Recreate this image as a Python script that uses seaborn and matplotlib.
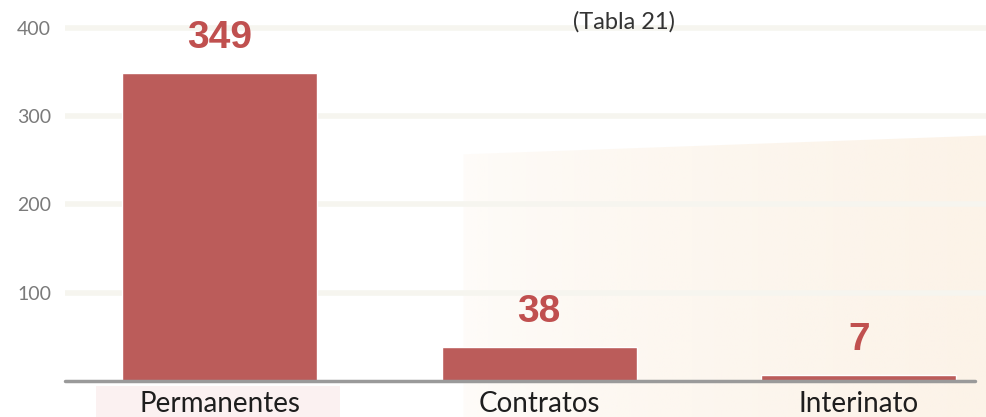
import matplotlib
matplotlib.use("Agg")
import matplotlib.pyplot as plt
from matplotlib.patches import Polygon
import seaborn as sns
import pandas as pd
import numpy as np

categories = ["Permanentes", "Contratos", "Interinato"]
values = [349, 38, 7]
y_ticks = [100, 200, 300, 400]
note = "(Tabla 21)"

bar_color = "#bb5c5a"
label_color = "#c0504f"

sns.set_theme(style="white")
plt.rcParams["font.family"] = ["Lato", "DejaVu Sans"]

fig = plt.figure(figsize=(9.86, 4.17), dpi=100)
fig.patch.set_facecolor("white")

# background layer: soft pastel panel fading in toward the right, and a tint behind the first label
bg = fig.add_axes([0, 0, 1, 1], zorder=0)
bg.set_xlim(0, 1)
bg.set_ylim(0, 1)
bg.axis("off")
panel = Polygon([(0.47, 0.63), (1.0, 0.675), (1.0, 0.0), (0.47, 0.0)],
                closed=True, facecolor="none", edgecolor="none")
bg.add_patch(panel)
ramp = np.linspace(0.0, 1.0, 256)
grad = np.zeros((1, 256, 4))
grad[..., 0] = 252 / 255
grad[..., 1] = 243 / 255
grad[..., 2] = 232 / 255
grad[..., 3] = 0.25 + 0.75 * ramp ** 0.7
img = bg.imshow(grad, extent=(0.47, 1.0, 0.0, 0.675), aspect="auto",
                interpolation="bilinear", zorder=0)
img.set_clip_path(panel)
bg.add_patch(Polygon([(0.097, 0.0), (0.345, 0.0), (0.345, 0.075), (0.097, 0.075)],
                     closed=True, facecolor="#fbf1f1", edgecolor="none"))

ax = fig.add_axes([65 / 986, 36 / 417, 921 / 986, 381 / 417], zorder=1)
ax.set_facecolor("none")

df = pd.DataFrame({"cat": categories, "val": values})
sns.barplot(data=df, x="cat", y="val", color=bar_color, width=0.61,
            saturation=1, ax=ax, zorder=3)

ax.set_xlim(-0.484, 2.398)
ax.set_ylim(0, 431.5)

for t in y_ticks:
    ax.axhline(t, color="#f6f5ef", lw=4, zorder=1)
ax.axhline(0, xmin=0, xmax=0.988, color="#9a9a9a", lw=2.5, zorder=4, clip_on=False)

for i, v in enumerate(values):
    ax.text(i, v + 40, str(v), ha="center", va="center", fontsize=28,
            fontweight="bold", color=label_color, zorder=5,
            family=["Liberation Sans", "DejaVu Sans"])

ax.set_yticks(y_ticks)
ax.set_yticklabels([str(t) for t in y_ticks], color="#7a7a7a", fontsize=14)
ax.tick_params(axis="y", length=0, pad=10)
ax.tick_params(axis="x", length=0, pad=7, labelsize=20, labelcolor="#1e1e1e")
ax.set_xlabel("")
ax.set_ylabel("")
for s in ax.spines.values():
    s.set_visible(False)

fig.text(624 / 986, 1 - 22 / 417, note, ha="center", va="center",
         fontsize=17, color="#333333")

fig.savefig("out.png", dpi=100)
